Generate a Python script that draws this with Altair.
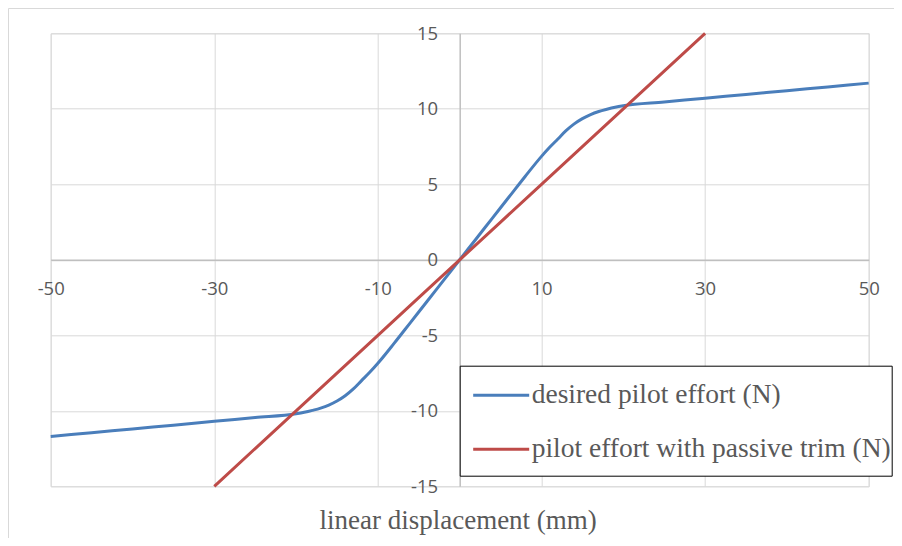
import altair as alt
import pandas as pd

# desired pilot effort (N) vs linear displacement (mm)
blue_x = [-50, -45, -40, -35, -30, -25, -20, -19, -18, -17, -16, -15, -14, -13, -12, -11, -10, -8, -6, -4, -2,
          0, 2, 4, 6, 8, 10, 11, 12, 13, 14, 15, 16, 17, 18, 19, 20, 25, 30, 35, 40, 45, 50]
blue_y = [-11.7, -11.45, -11.2, -10.95, -10.7, -10.45, -10.2, -10.1, -9.97, -9.82, -9.62, -9.35, -9.0, -8.55, -8.0, -7.45, -6.85, -5.52, -4.14, -2.76, -1.38,
          0, 1.38, 2.76, 4.14, 5.52, 6.85, 7.45, 8.0, 8.55, 9.0, 9.35, 9.62, 9.82, 9.97, 10.1, 10.2, 10.45, 10.7, 10.95, 11.2, 11.45, 11.7]

# pilot effort with passive trim (N)
red_x = [-30, -20, -10, 0, 10, 20, 30]
red_y = [-15, -10, -5, 0, 5, 10, 15]

series_names = ["desired pilot effort (N)", "pilot effort with passive trim (N)"]
series_colors = ["#4A7EBB", "#BE4B48"]

x_ticks = [-50, -30, -10, 10, 30, 50]
y_ticks = [-15, -10, -5, 0, 5, 10, 15]

df = pd.concat([
    pd.DataFrame({"x": blue_x, "y": blue_y, "series": series_names[0]}),
    pd.DataFrame({"x": red_x, "y": red_y, "series": series_names[1]}),
], ignore_index=True)

W, H = 818, 453
label_font = "Open Sans"
serif = "Liberation Serif"
grey = "#595959"

frame = alt.Chart(pd.DataFrame({"a": [0]})).mark_rect(
    fill="transparent", stroke="#d9d9d9", strokeWidth=1
).encode(
    x=alt.value(-42.2), x2=alt.value(W + 200),
    y=alt.value(-24.8), y2=alt.value(H + 200),
)

lines = alt.Chart(df).mark_line(strokeWidth=3, interpolate="monotone").encode(
    x=alt.X("x:Q",
            scale=alt.Scale(domain=[-50, 50], nice=False, zero=False),
            axis=alt.Axis(values=x_ticks, grid=True, gridColor="#d9d9d9", gridWidth=1,
                          ticks=False, domainColor="#bfbfbf", domainWidth=1.5,
                          offset=-H / 2, labelFont=label_font, labelFontSize=18.5,
                          labelColor=grey, labelPadding=29, labelBaseline="middle",
                          labelFlush=False, labelExpr="'' + datum.value",
                          title="linear displacement (mm)", titleFont=serif,
                          titleFontSize=27, titleFontWeight="normal", titleColor=grey,
                          titleBaseline="alphabetic", titleY=H / 2 + 42, titleX=W / 2 - 2)),
    y=alt.Y("y:Q",
            scale=alt.Scale(domain=[-15, 15], nice=False, zero=False),
            axis=alt.Axis(values=y_ticks, grid=True, gridColor="#d9d9d9", gridWidth=1,
                          ticks=False, domainColor="#bfbfbf", domainWidth=1.5,
                          offset=-W / 2, labelFont=label_font, labelFontSize=18.5,
                          labelColor=grey, labelPadding=22, labelFlush=False,
                          labelExpr="'' + datum.value",
                          title=None)),
    color=alt.Color("series:N",
                    scale=alt.Scale(domain=series_names, range=series_colors),
                    legend=alt.Legend(title=" ", titleOrient="bottom", titleFontSize=1,
                                      titlePadding=12,
                                      orient="none", legendX=W / 2, legendY=332.4,
                                      symbolType="stroke", symbolSize=3136, symbolStrokeWidth=3,
                                      symbolOffset=12, padding=0, rowPadding=11,
                                      labelFont=serif, labelFontSize=27.5, labelColor=grey,
                                      labelOffset=1, labelLimit=600,
                                      strokeColor="#000000", fillColor="#ffffff")),
    order=alt.Order("x:Q"),
)

chart = alt.layer(frame, lines).properties(
    width=W, height=H,
    autosize=alt.AutoSizeParams(type="none"),
    padding={"left": 42.7, "top": 25.3, "right": 25, "bottom": 52},
).configure_view(stroke=None).configure(background="white")

chart.save("out.html", embed_options={"renderer": "svg", "actions": False})
